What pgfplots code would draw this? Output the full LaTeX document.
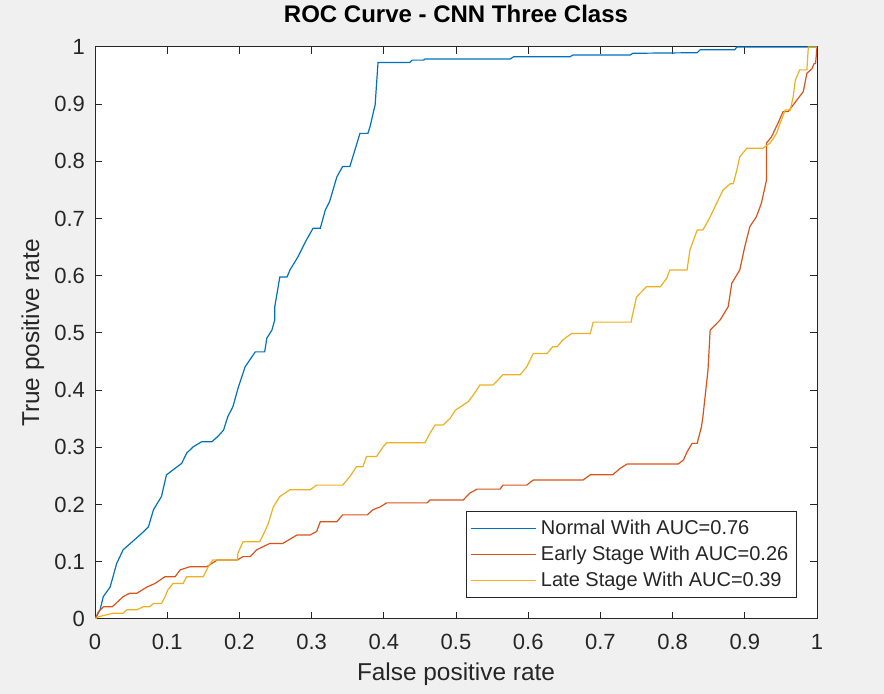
\documentclass[border=0pt]{standalone}
\usepackage{fontspec}
\setmainfont{Liberation Sans}
\usepackage{pgfplots}
\pgfplotsset{compat=1.18}

\definecolor{figbg}{HTML}{F0F0F0}
\definecolor{axcol}{HTML}{262626}
\definecolor{mblue}{rgb}{0,0.447,0.741}
\definecolor{morange}{rgb}{0.85,0.325,0.098}
\definecolor{myellow}{rgb}{0.929,0.694,0.125}

\begin{document}
\begin{tikzpicture}
% 1 px of the reference = 0.5pt
\fill[figbg] (0,0) rectangle (442pt,347pt);
\begin{axis}[
  at={(47.5pt,37.5pt)}, anchor=south west,
  width=361pt, height=286pt, scale only axis,
  xmin=0, xmax=1, ymin=0, ymax=1,
  xtick={0,0.1,...,1.01}, ytick={0,0.1,...,1.01},
  xticklabels={0,0.1,0.2,0.3,0.4,0.5,0.6,0.7,0.8,0.9,1},
  yticklabels={0,0.1,0.2,0.3,0.4,0.5,0.6,0.7,0.8,0.9,1},
  tick align=inside, major tick length=3.5pt,
  xtick pos=both, ytick pos=both,
  axis line style={axcol, line width=0.5pt},
  tick style={axcol, line width=0.5pt},
  axis background/.style={fill=white},
  tick label style={font=\fontsize{11}{13}\selectfont, text=axcol},
  xticklabel style={yshift=-4pt},
  yticklabel style={xshift=-1.5pt},
  /pgf/number format/assume math mode=true,
  title={ROC Curve - CNN Three Class},
  title style={at={(axis description cs:0.5,1.037)}, anchor=center, yshift=0pt,
    font=\bfseries\fontsize{12}{14}\selectfont, text=black},
  xlabel={False positive rate},
  ylabel={True positive rate},
  label style={font=\fontsize{12.2}{14}\selectfont, text=axcol},
  xlabel style={at={(axis description cs:0.5,-0.096)}, anchor=center},
  ylabel style={at={(axis description cs:-0.086,0.5)}, anchor=center},
  legend style={at={(0.972,0.0367)}, anchor=south east,
    draw=axcol, line width=0.5pt, fill=white,
    font=\fontsize{10}{12}\selectfont, text=axcol,
    row sep=0.3pt, inner xsep=2pt, inner ysep=2pt},
  legend cell align=left,
  legend image code/.code={\draw[#1, line width=0.6pt] (0pt,0pt) -- (32.5pt,0pt);},
  every axis plot/.append style={line width=0.6pt},
]
% Normal
\addplot[mblue] coordinates {
(0,0) (0.007,0.016) (0.0115,0.039) (0.021,0.056) (0.03,0.097) (0.039,0.121)
(0.065,0.150) (0.074,0.161) (0.081,0.191) (0.092,0.214) (0.099,0.252)
(0.12,0.272) (0.127,0.290) (0.136,0.301) (0.148,0.310) (0.162,0.310)
(0.170,0.319) (0.178,0.330) (0.184,0.354) (0.191,0.371) (0.198,0.403)
(0.208,0.441) (0.222,0.467) (0.235,0.467) (0.238,0.491) (0.245,0.505)
(0.249,0.523) (0.249,0.546) (0.256,0.598) (0.266,0.598) (0.270,0.610)
(0.281,0.633) (0.293,0.663) (0.302,0.683) (0.312,0.683) (0.319,0.715)
(0.325,0.730) (0.335,0.773) (0.343,0.791) (0.353,0.791) (0.367,0.849)
(0.378,0.849) (0.381,0.861) (0.388,0.899) (0.392,0.973) (0.436,0.973)
(0.439,0.977) (0.455,0.977) (0.457,0.979) (0.575,0.979) (0.58,0.983)
(0.658,0.983) (0.662,0.986) (0.741,0.986) (0.745,0.989) (0.834,0.990)
(0.838,0.995) (0.886,0.995) (0.889,1.0) (1,1)
};
\addlegendentry{Normal With AUC=0.76}
% Early stage
\addplot[morange] coordinates {
(0,0) (0.005,0.013) (0.012,0.0215) (0.024,0.0215) (0.039,0.039) (0.048,0.045)
(0.058,0.045) (0.072,0.056) (0.083,0.062) (0.097,0.074) (0.111,0.074)
(0.118,0.086) (0.132,0.0915) (0.155,0.0915) (0.169,0.103) (0.197,0.103)
(0.205,0.109) (0.215,0.109) (0.224,0.121) (0.242,0.132) (0.26,0.132)
(0.28,0.147) (0.298,0.147) (0.307,0.153) (0.312,0.170) (0.335,0.170)
(0.343,0.182) (0.377,0.182) (0.385,0.191) (0.395,0.196) (0.404,0.203)
(0.46,0.203) (0.464,0.208) (0.51,0.208) (0.519,0.220) (0.529,0.227)
(0.561,0.227) (0.565,0.234) (0.598,0.234) (0.607,0.243) (0.676,0.243)
(0.686,0.252) (0.717,0.252) (0.727,0.263) (0.737,0.271) (0.808,0.271)
(0.815,0.278) (0.820,0.292) (0.827,0.307) (0.834,0.307) (0.840,0.336)
(0.842,0.354) (0.849,0.435) (0.852,0.505) (0.859,0.514) (0.866,0.523)
(0.877,0.546) (0.882,0.587) (0.893,0.610) (0.900,0.651) (0.907,0.686)
(0.916,0.703) (0.923,0.727) (0.930,0.767) (0.930,0.832) (0.937,0.843)
(0.946,0.867) (0.953,0.887) (0.960,0.887) (0.972,0.907) (0.981,0.922)
(0.986,0.954) (0.993,0.962) (0.996,0.971) (0.998,0.971) (1,1)
};
\addlegendentry{Early Stage With AUC=0.26}
% Late stage
\addplot[myellow] coordinates {
(0,0) (0.005,0.004) (0.025,0.010) (0.039,0.010) (0.044,0.016) (0.058,0.016)
(0.067,0.0215) (0.076,0.0215) (0.081,0.027) (0.092,0.027) (0.097,0.039)
(0.101,0.051) (0.108,0.062) (0.122,0.062) (0.127,0.074) (0.150,0.074)
(0.157,0.0915) (0.163,0.103) (0.197,0.103) (0.198,0.115) (0.205,0.135)
(0.228,0.135) (0.233,0.147) (0.240,0.167) (0.247,0.196) (0.256,0.214)
(0.270,0.226) (0.298,0.226) (0.307,0.234) (0.343,0.234) (0.353,0.249)
(0.362,0.266) (0.371,0.266) (0.376,0.284) (0.390,0.284) (0.399,0.301)
(0.404,0.308) (0.457,0.308) (0.464,0.325) (0.471,0.339) (0.482,0.339)
(0.492,0.351) (0.499,0.365) (0.517,0.380) (0.526,0.395) (0.533,0.409)
(0.551,0.409) (0.556,0.415) (0.565,0.427) (0.589,0.427) (0.598,0.441)
(0.607,0.464) (0.626,0.464) (0.634,0.476) (0.640,0.476) (0.648,0.488)
(0.66,0.499) (0.686,0.499) (0.690,0.519) (0.743,0.519) (0.743,0.523)
(0.750,0.563) (0.764,0.581) (0.783,0.581) (0.792,0.596) (0.796,0.610)
(0.820,0.610) (0.824,0.645) (0.834,0.680) (0.842,0.680) (0.852,0.703)
(0.861,0.727) (0.870,0.750) (0.880,0.761) (0.884,0.761) (0.889,0.785)
(0.893,0.808) (0.903,0.823) (0.925,0.823) (0.935,0.832) (0.944,0.849)
(0.949,0.867) (0.956,0.890) (0.963,0.890) (0.967,0.913) (0.970,0.942)
(0.976,0.960) (0.986,0.960) (0.988,1.0) (1,1)
};
\addlegendentry{Late Stage With AUC=0.39}
\end{axis}
\pgfresetboundingbox
\path (0,0) rectangle (442pt,347pt);
\end{tikzpicture}
\end{document}
